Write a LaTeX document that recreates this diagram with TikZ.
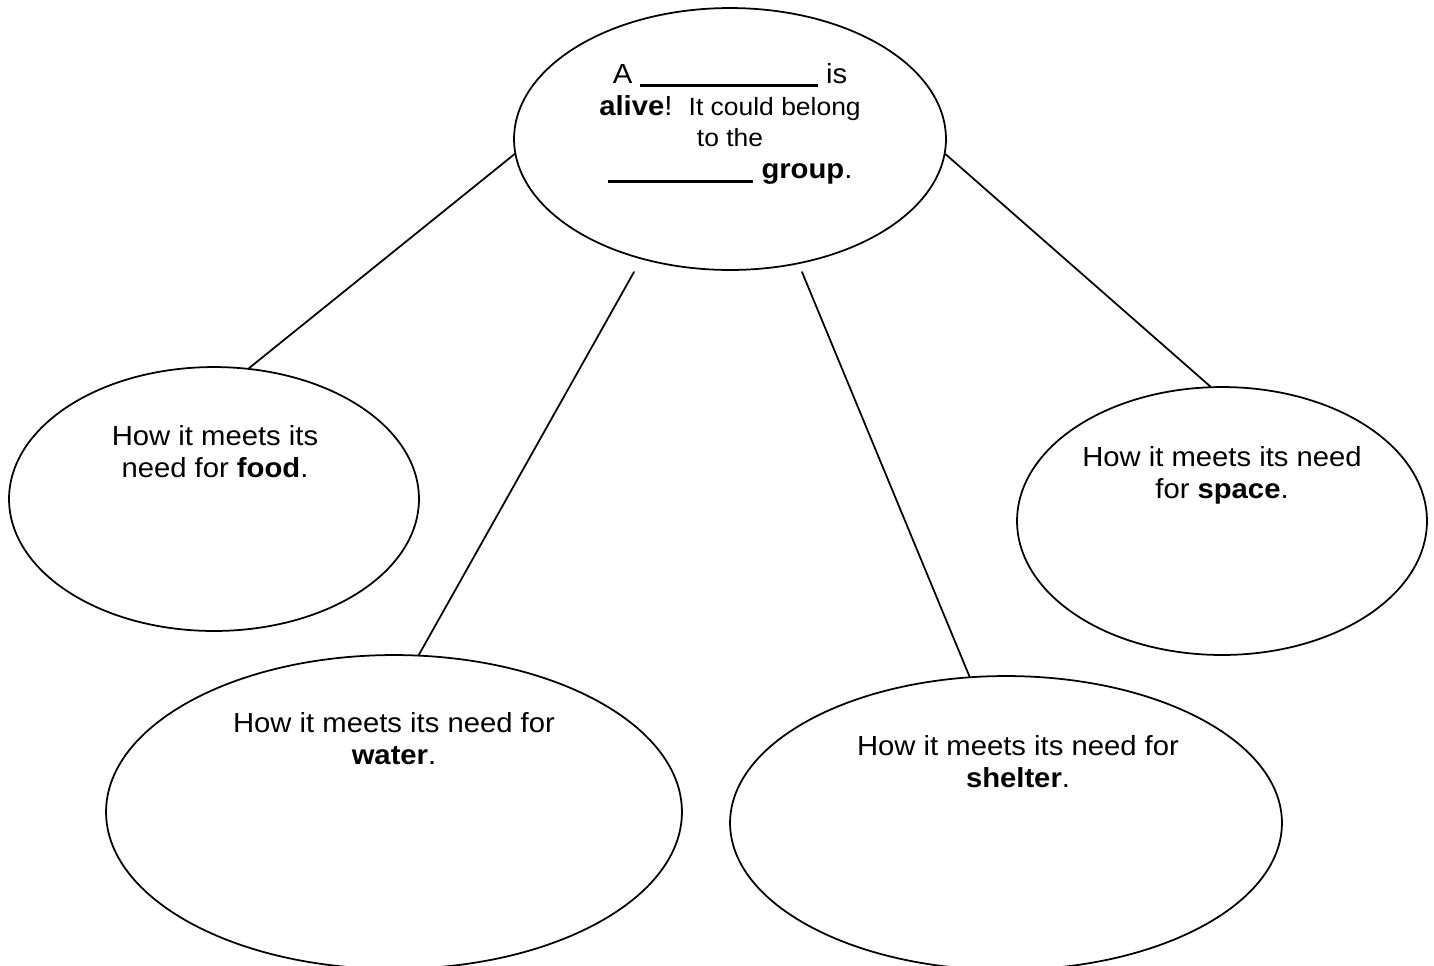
\documentclass[tikz,border=0pt]{standalone}
\usepackage{fontspec}
\setmainfont{Liberation Sans}[FakeStretch=1.06]
\usetikzlibrary{shapes.geometric,positioning}
\newcommand\blankline[1]{\rule[-2.3pt]{#1}{1.8pt}}
\begin{document}
\begin{tikzpicture}[x=0.02cm, y=-0.02cm, line width=1pt, line join=round, line cap=round,
  bubble/.style={draw, ellipse, inner sep=0pt},
  words/.style={align=center, inner sep=0pt, font=\fontsize{15.7}{18.1}\selectfont}]
\useasboundingbox (0,0) rectangle (1434,965);
\clip (0,0) rectangle (1434,965);
\node[bubble, minimum width=8.64cm, minimum height=5.24cm] (top) at (730,139) {};
\node[bubble, minimum width=8.2cm, minimum height=5.28cm] (food) at (214,499) {};
\node[bubble, minimum width=11.52cm, minimum height=6.28cm] (water) at (394,812) {};
\node[bubble, minimum width=11.04cm, minimum height=5.88cm] (shelter) at (1006,823) {};
\node[bubble, minimum width=8.2cm, minimum height=5.36cm] (space) at (1222,521) {};
\node[words] (toptext) at (730,124) {A \blankline{101pt} is\\
 \textbf{alive}!\ \ {\fontsize{14.2}{18.1}\selectfont It could belong}\\
 {\fontsize{14.2}{18.1}\selectfont to the}\\
 \blankline{83pt} \textbf{group}.};
\node[words] (foodtext) at (215,452) {How it meets its\\ need for \textbf{food}.};
\node[words] (watertext) at (394,739) {How it meets its need for\\ \textbf{water}.};
\node[words] (sheltertext) at (1018,762) {How it meets its need for\\ \textbf{shelter}.};
\node[words] (spacetext) at (1222,475) {How it meets its need\\ for \textbf{space}.};
\coordinate (waterstart) at (634,272);
\coordinate (shelterstart) at (802,272);
\draw (top.184) -- (food.75);
\draw (waterstart) -- (water.81);
\draw (shelterstart) -- (shelter.104);
\draw (top.356) -- (space.95);
\end{tikzpicture}
\end{document}
